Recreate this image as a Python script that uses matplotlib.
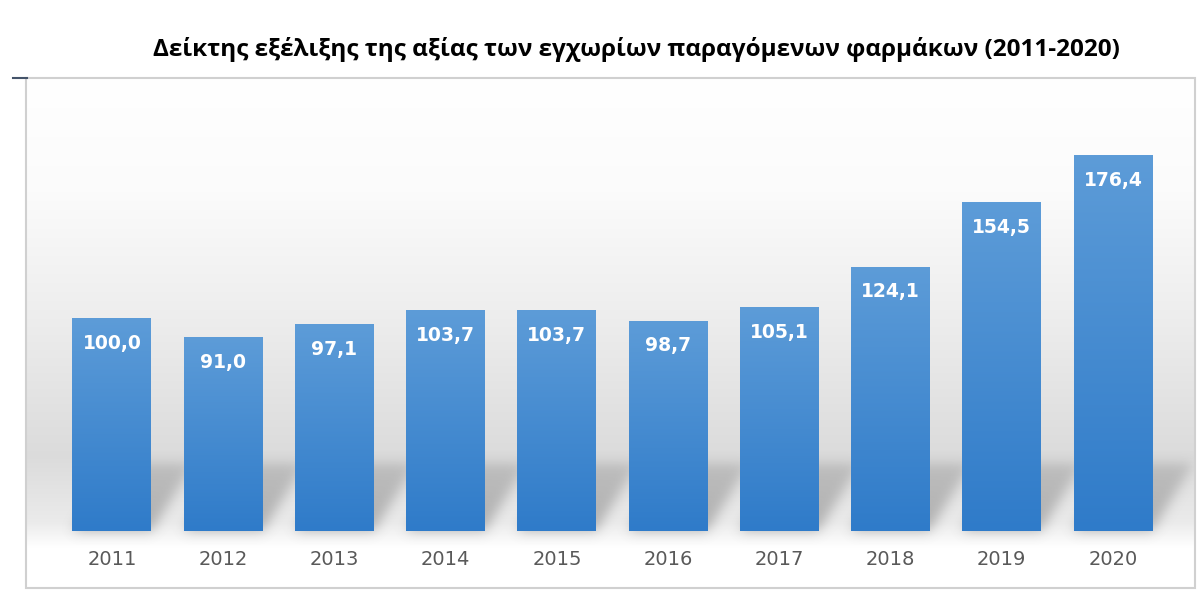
import numpy as np
import matplotlib
matplotlib.use("Agg")
import matplotlib.pyplot as plt
from matplotlib.colors import LinearSegmentedColormap
from matplotlib.lines import Line2D
from matplotlib.patches import Rectangle

# =========================
# DATA
# =========================

years = ["2011", "2012", "2013", "2014", "2015",
         "2016", "2017", "2018", "2019", "2020"]
index_values = [100.0, 91.0, 97.1, 103.7, 103.7,
                98.7, 105.1, 124.1, 154.5, 176.4]
value_labels = ["100,0", "91,0", "97,1", "103,7", "103,7",
                "98,7", "105,1", "124,1", "154,5", "176,4"]

title = "Δείκτης εξέλιξης της αξίας των εγχωρίων παραγόμενων φαρμάκων (2011-2020)"

# =========================
# FIGURE / AXES
# =========================

W, H = 1200, 592
fig = plt.figure(figsize=(12, 5.92), dpi=100)
fig.patch.set_facecolor("white")

ax_l, ax_r, ax_t, ax_b = 26, 1195, 78, 588
ax = fig.add_axes([ax_l / W, (H - ax_b) / H,
                   (ax_r - ax_l) / W, (ax_b - ax_t) / H])

xmin, xmax = -0.773, 9.737
ymin, ymax = -26.8, 212.7
ax.set_xlim(xmin, xmax)
ax.set_ylim(ymin, ymax)
ax.axis("off")

x = np.arange(len(years))
bar_w = 0.71

# =========================
# BACKGROUND GRADIENT
# =========================

gy = np.linspace(ymin, ymax, 400)
stops_y = [ymin, -8, 4, 35, 100, 160, ymax]
stops_g = [1.0, 1.0, 0.92, 0.86, 0.93, 0.985, 1.0]
grey = np.interp(gy, stops_y, stops_g)
bg = np.repeat(grey[:, None], 2, axis=1)
bg = np.dstack([bg, bg, bg])
ax.imshow(bg, extent=[xmin, xmax, ymin, ymax], origin="lower",
          aspect="auto", zorder=0, interpolation="bilinear")

# =========================
# BAR SHADOWS (blurred, slanted up-right)
# =========================

sw, sh = 1169, 510
sx = np.linspace(xmin, xmax, sw)
sy = np.linspace(ymin, ymax, sh)
X, Y = np.meshgrid(sx, sy)
mask = np.zeros_like(X)
hs, dx = 32.0, 0.38
for xi in x:
    t = np.clip(Y / hs, 0, 1)
    inside = ((Y >= 0) & (Y <= hs)
              & (X >= xi - bar_w / 2 + dx * t)
              & (X <= xi + bar_w / 2 + dx * t))
    mask[inside] = 1.0 - 0.4 * t[inside]

k = np.exp(-0.5 * (np.arange(-21, 22) / 6.0) ** 2)
k /= k.sum()
mask = np.apply_along_axis(lambda r: np.convolve(r, k, mode="same"), 1, mask)
mask = np.apply_along_axis(lambda c: np.convolve(c, k, mode="same"), 0, mask)

shadow = np.zeros((sh, sw, 4))
shadow[..., :3] = 0.45
shadow[..., 3] = np.clip(mask * 0.5, 0, 1)
ax.imshow(shadow, extent=[xmin, xmax, ymin, ymax], origin="lower",
          aspect="auto", zorder=1)

# =========================
# BARS WITH GRADIENT
# =========================

bar_cmap = LinearSegmentedColormap.from_list("bars", ["#2f7bc9", "#5d9cd8"])
bars = ax.bar(x, index_values, width=bar_w, color="#4a8fd2",
              edgecolor="none", zorder=2)
grad = np.linspace(0, 1, 256).reshape(-1, 1)
for b in bars:
    bx, by = b.get_x(), b.get_y()
    bw, bh = b.get_width(), b.get_height()
    im = ax.imshow(grad, extent=[bx, bx + bw, by, by + bh], origin="lower",
                   cmap=bar_cmap, aspect="auto", zorder=3)
    im.set_clip_path(b)

# =========================
# LABELS
# =========================

for xi, v, lab in zip(x, index_values, value_labels):
    ax.text(xi, v - 11.8, lab, ha="center", va="center",
            color="white", fontsize=13.5, fontweight="bold",
            family="DejaVu Sans", zorder=4)

for xi, yr in zip(x, years):
    ax.text(xi, -13.2, yr, ha="center", va="center",
            color="#595959", fontsize=14, family="DejaVu Sans", zorder=4)

# frame around chart area
ax.add_patch(Rectangle((xmin, ymin), xmax - xmin, ymax - ymin,
                       fill=False, edgecolor="#d0d0d0", linewidth=1.5,
                       zorder=5, clip_on=False))

fig.add_artist(Line2D([13 / W, 27 / W], [(H - 78) / H, (H - 78) / H],
                      color="#44546a", linewidth=1.5))

fig.text(636 / W, (H - 50) / H, title, ha="center", va="center",
         fontsize=17.5, fontweight="bold", family="Open Sans", color="black")

plt.savefig("out.png", dpi=100)
plt.close()
